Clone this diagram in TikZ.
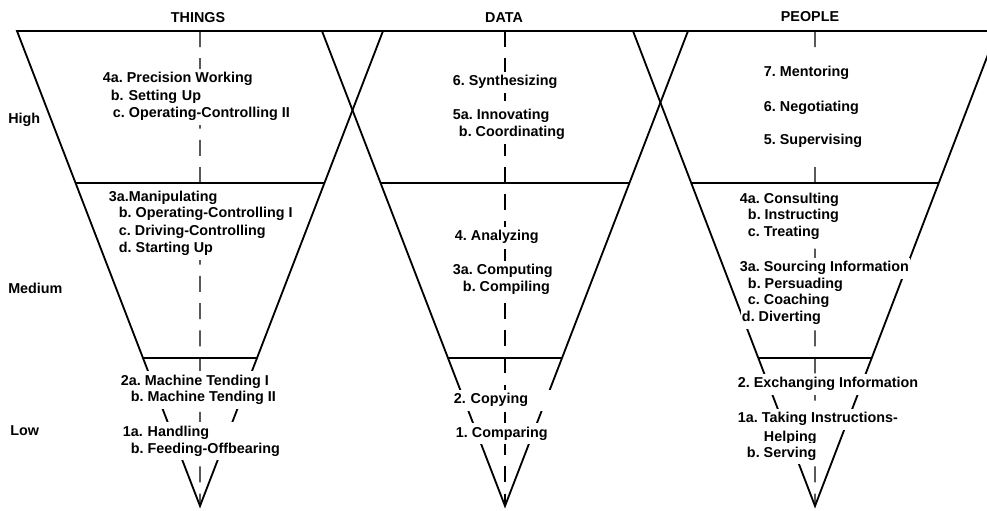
\documentclass[tikz,border=0pt]{standalone}
\usepackage{fontspec}
\setmainfont{Liberation Sans}
\frenchspacing
\usetikzlibrary{calc}
\begin{document}
\begin{tikzpicture}[x=0.025cm,y=-0.025cm,
  edge/.style={line width=1.3pt},
  axis/.style={line width=0.9pt, dash pattern=on 0.4cm off 0.28cm},
  lbl/.style={anchor=base west, fill=white, inner xsep=0.5pt, inner ysep=2.5pt,
    font=\fontsize{10.2}{12.4}\selectfont\bfseries},
  head/.style={font=\fontsize{10.2}{12.4}\selectfont\bfseries}]
\useasboundingbox (0,0) rectangle (987,511);

% corners of the three cones
\coordinate (tl) at (17,31);
\coordinate (tr) at (383,31);
\coordinate (ta) at (200,506);
\coordinate (dl) at (322,31);
\coordinate (dr) at (688,31);
\coordinate (da) at (505,506);
\coordinate (pl) at (633,31);
\coordinate (pr) at (997,31);
\coordinate (pa) at (815,506);

\draw[edge] (tl) -- (tr) -- (ta) -- cycle;
\draw[edge] ($(tl)!0.32!(ta)$) -- ($(tr)!0.32!(ta)$);
\draw[edge] ($(tl)!0.688!(ta)$) -- ($(tr)!0.688!(ta)$);
\draw[axis] ($(tl)!0.5!(tr)$) -- (ta);

\draw[edge] (dl) -- (dr) -- (da) -- cycle;
\draw[edge] ($(dl)!0.32!(da)$) -- ($(dr)!0.32!(da)$);
\draw[edge] ($(dl)!0.688!(da)$) -- ($(dr)!0.688!(da)$);
\draw[axis] ($(dl)!0.5!(dr)$) -- (da);

\draw[edge] (pl) -- (pr) -- (pa) -- cycle;
\draw[edge] ($(pl)!0.32!(pa)$) -- ($(pr)!0.32!(pa)$);
\draw[edge] ($(pl)!0.688!(pa)$) -- ($(pr)!0.688!(pa)$);
\draw[axis] ($(pl)!0.5!(pr)$) -- (pa);

% headings and levels
\node (things) at (198,18) [head] {THINGS};
\node (data) at (504,18) [head] {DATA};
\node (people) at (810,17) [head] {PEOPLE};
\node (high) at (8,120) [head, anchor=west, inner xsep=0pt] {High};
\node (medium) at (8,288) [head, anchor=west, inner xsep=0pt] {Medium};
\node (low) at (10,431) [head, anchor=west, inner xsep=0pt] {Low};

% things
\node (t4a) at (102,83) [lbl] {4a. Precision Working};
\node (t4b) at (110,101) [lbl, text width=2.5cm, align=left] {b. Setting Up};
\node (t4c) at (112,118) [lbl] {c. Operating-Controlling II};
\node (t3a) at (108,202) [lbl] {3a.Manipulating};
\node (t3b) at (118,218) [lbl] {b. Operating-Controlling I};
\node (t3c) at (118,236) [lbl] {c. Driving-Controlling};
\node (t3d) at (118,253) [lbl] {d. Starting Up};
\node (t2a) at (120,385) [lbl] {2a. Machine Tending I};
\node (t2b) at (130,402) [lbl] {b. Machine Tending II};
\node (t1a) at (122,436) [lbl, text width=3cm, align=left] {1a. Handling};
\node (t1b) at (130,453) [lbl] {b. Feeding-Offbearing};

% data
\node (d6) at (452,86) [lbl] {6. Synthesizing};
\node (d5a) at (452,120) [lbl] {5a. Innovating};
\node (d5b) at (458,137) [lbl] {b. Coordinating};
\node (d4) at (454,241) [lbl] {4. Analyzing};
\node (d3a) at (452,275) [lbl] {3a. Computing};
\node (d3b) at (462,292) [lbl] {b. Compiling};
\node (d2) at (453,404) [lbl, text width=2.75cm, align=left] {2. Copying};
\node (d1) at (455,437) [lbl] {1. Comparing};

% people
\node (p7) at (763,77) [lbl, inner ysep=8pt] {7. Mentoring};
\node (p6) at (763,112) [lbl, inner ysep=8pt] {6. Negotiating};
\node (p5) at (763,145) [lbl, inner ysep=8pt] {5. Supervising};
\node (p4a) at (739,204) [lbl] {4a. Consulting};
\node (p4b) at (747,220) [lbl] {b. Instructing};
\node (p4c) at (747,237) [lbl] {c. Treating};
\node (p3a) at (739,272) [lbl] {3a. Sourcing Information};
\node (p3b) at (747,289) [lbl] {b. Persuading};
\node (p3c) at (747,305) [lbl] {c. Coaching};
\node (p3d) at (741,322) [lbl] {d. Diverting};
\node (p2) at (737,388) [lbl] {2. Exchanging Information};
\node (p1a) at (737,423) [lbl] {1a. Taking Instructions-};
\node (p1h) at (763,441) [lbl] {Helping};
\node (p1b) at (746,457) [lbl] {b. Serving};
\end{tikzpicture}
\end{document}
